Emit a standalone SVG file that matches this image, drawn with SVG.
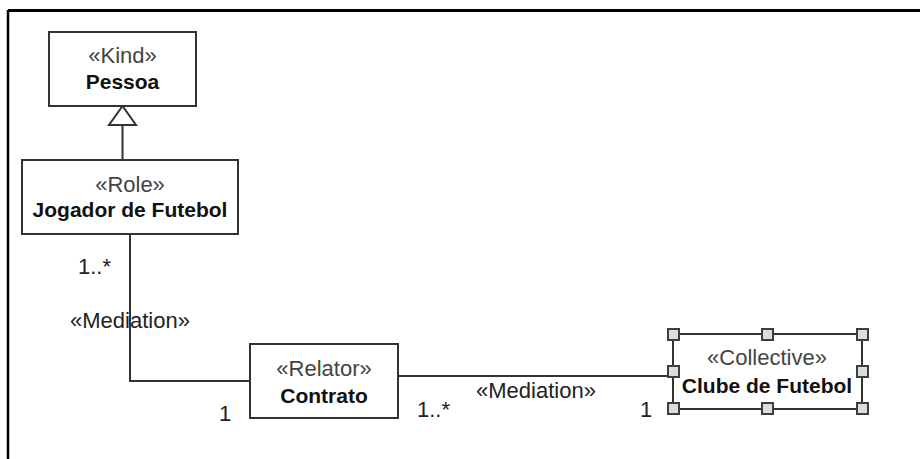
<svg xmlns="http://www.w3.org/2000/svg" width="920" height="459" viewBox="0 0 920 459">
<style>
.box{fill:#fff;stroke:#333;stroke-width:2}
.st{font-family:"Liberation Sans",Arial,sans-serif;font-size:22px;fill:#444;text-anchor:middle}
.nm{font-family:"Liberation Sans",Arial,sans-serif;font-size:21px;font-weight:bold;fill:#111;text-anchor:middle}
.lbl{font-family:"Liberation Sans",Arial,sans-serif;font-size:22px;fill:#222}
.edge{fill:none;stroke:#333;stroke-width:2}
.h{fill:#ddd;stroke:#3a3f47;stroke-width:2}
</style>
<rect width="920" height="459" fill="#fff"/>
<g id="frame">
<line x1="8" y1="10.5" x2="920" y2="10.5" stroke="#000" stroke-width="3"/>
<line x1="8" y1="10" x2="8" y2="459" stroke="#000" stroke-width="2.5"/>
</g>
<g id="connectors">
<line class="edge" x1="122.5" y1="125" x2="122.5" y2="160"/>
<polygon points="122.5,106 109,125 136,125" fill="#fff" stroke="#333" stroke-width="2"/>
<path class="edge" d="M130,234 V381 H250"/>
<line class="edge" x1="398" y1="376" x2="673" y2="376"/>
<text class="lbl" x="78" y="274">1..*</text>
<text class="lbl" x="70" y="328" fill="#333">«Mediation»</text>
<text class="lbl" x="219" y="421">1</text>
<text class="lbl" x="417" y="417">1..*</text>
<text class="lbl" x="476" y="398" fill="#333">«Mediation»</text>
<text class="lbl" x="640" y="417">1</text>
</g>
<g id="pessoa">
<rect class="box" x="49" y="32" width="147" height="74"/>
<text class="st" x="122.5" y="63">«Kind»</text>
<text class="nm" x="122.5" y="89">Pessoa</text>
</g>
<g id="jogador">
<rect class="box" x="22" y="160" width="216" height="74"/>
<text class="st" x="130" y="192">«Role»</text>
<text class="nm" x="130" y="217">Jogador de Futebol</text>
</g>
<g id="contrato">
<rect class="box" x="250" y="344" width="148" height="74"/>
<text class="st" x="324" y="376">«Relator»</text>
<text class="nm" x="324" y="403">Contrato</text>
</g>
<g id="clube">
<rect class="box" x="673" y="334" width="189" height="75"/>
<text class="st" x="767" y="365">«Collective»</text>
<text class="nm" x="767" y="393">Clube de Futebol</text>
<rect class="h" x="668" y="329" width="11" height="11"/>
<rect class="h" x="762" y="329" width="11" height="11"/>
<rect class="h" x="857" y="329" width="11" height="11"/>
<rect class="h" x="668" y="366" width="11" height="11"/>
<rect class="h" x="857" y="366" width="11" height="11"/>
<rect class="h" x="668" y="403" width="11" height="11"/>
<rect class="h" x="762" y="403" width="11" height="11"/>
<rect class="h" x="857" y="403" width="11" height="11"/>
</g>
</svg>
